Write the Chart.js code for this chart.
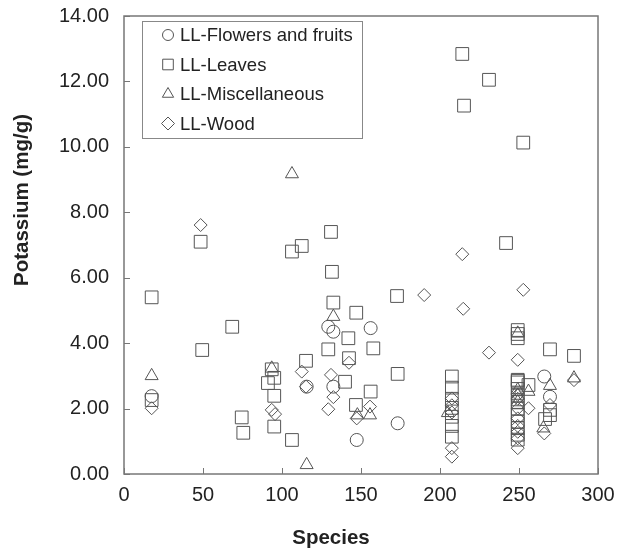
<!DOCTYPE html>
<html>
<head>
<meta charset="utf-8">
<script src="https://cdn.jsdelivr.net/npm/chart.js@4.4.1/dist/chart.umd.min.js"></script>
<style>
	html, body { margin: 0; padding: 0; background: #fff; }
	#wrap { width: 617px; height: 555px; }
</style>
</head>
<body>
<div id="wrap"><canvas id="potChart" width="617" height="555"></canvas></div>
<script>
// x ticks / y ticks
var xTicks = [0, 50, 100, 150, 200, 250, 300];
var yTicks = [0, 2, 4, 6, 8, 10, 12, 14];

// LL-Flowers and fruits
var flowersX = [17.5, 129.3, 132.5, 156.1, 115.6, 132.5, 147.3, 173.2, 266, 269.6];
var flowersY = [2.38, 4.50, 4.35, 4.46, 2.67, 2.67, 1.04, 1.55, 2.98, 2.36];

// LL-Leaves
var leavesX = [17.5, 17.5, 48.5, 49.5, 68.5, 74.5, 75.5, 93.5, 95.1, 91.1, 95.1, 95.1, 106.3, 115.2, 106.3, 112.5,
	131, 131.6, 132.5, 147, 142, 129.3, 157.8, 142.4, 139.9, 156.1, 146.8, 173.2, 172.8,
	214.1, 231, 215.2, 252.7, 241.8,
	207.5, 207.5, 207.5, 207.5, 207.5, 207.5, 207.5,
	249.2, 249.2, 249.2, 249.2, 249.2, 249.2, 249.2, 249.2, 249.2, 249.2, 249.2, 249.2, 249.2, 249.2, 249.2,
	256, 269.6, 284.8, 269.6, 266.5, 269.6];
var leavesY = [5.40, 2.26, 7.10, 3.79, 4.50, 1.73, 1.26, 3.20, 2.94, 2.78, 2.39, 1.45, 1.04, 3.46, 6.80, 6.97,
	7.40, 6.18, 5.24, 4.93, 4.15, 3.81, 3.84, 3.54, 2.82, 2.52, 2.11, 3.06, 5.44,
	12.84, 12.05, 11.26, 10.13, 7.06,
	2.98, 2.64, 2.30, 2.02, 1.75, 1.47, 1.14,
	4.40, 4.28, 4.15, 2.88, 2.85, 2.80, 2.60, 2.40, 2.20, 2.00, 1.80, 1.60, 1.40, 1.20, 1.05,
	2.72, 3.81, 3.61, 1.96, 1.68, 1.80];

// LL-Miscellaneous
var miscX = [17.5, 106.3, 115.6, 93.5, 132.5, 147.7, 155.7, 249.2, 249.2, 249.2, 249.2, 256, 269.6, 284.8, 205, 265.4];
var miscY = [3.00, 9.17, 0.28, 3.23, 4.81, 1.80, 1.80, 4.30, 2.57, 2.40, 2.20, 2.52, 2.70, 2.93, 1.87, 1.40];

// LL-Wood
var woodX = [17.5, 48.5, 112.5, 115.2, 93.5, 95.6, 142.4, 131, 132.5, 129.3, 147.3, 155.7,
	214.1, 190, 214.7, 252.7, 231, 249.2,
	207.5, 207.5, 207.5, 207.5, 207.5,
	249.2, 249.2, 249.2, 249.2, 249.2, 249.2, 249.2, 249.2,
	256, 269.6, 266, 284.8];
var woodY = [2.01, 7.61, 3.13, 2.67, 1.96, 1.83, 3.40, 3.03, 2.35, 1.98, 1.70, 2.06,
	6.72, 5.47, 5.05, 5.63, 3.71, 3.49,
	2.31, 2.10, 1.88, 0.79, 0.53,
	2.42, 2.30, 2.00, 1.70, 1.47, 1.29, 1.09, 0.79,
	2.01, 2.11, 1.24, 2.87];

var markColor = '#555555';
var frameColor = '#777777';
var textColor = '#222222';
var fontFam = '"Liberation Sans", Arial, sans-serif';

function toPoints(xs, ys) {
	var pts = [];
	for (var i = 0; i < xs.length && i < ys.length; i++) {
		pts.push({x: xs[i], y: ys[i]});
	}
	return pts;
}

// little marker painter for the boxed legend
function drawMark(ctx, style, x, y, r) {
	ctx.beginPath();
	if (style === 'circle') {
		ctx.arc(x, y, r, 0, Math.PI * 2);
	} else if (style === 'rect') {
		var s = r * Math.SQRT1_2;
		ctx.rect(x - s, y - s, 2 * s, 2 * s);
	} else if (style === 'triangle') {
		ctx.moveTo(x, y - r);
		ctx.lineTo(x + r * 0.866, y + r * 0.5);
		ctx.lineTo(x - r * 0.866, y + r * 0.5);
		ctx.closePath();
	} else if (style === 'rectRot') {
		ctx.moveTo(x, y - r);
		ctx.lineTo(x + r, y);
		ctx.lineTo(x, y + r);
		ctx.lineTo(x - r, y);
		ctx.closePath();
	}
	ctx.stroke();
}

var framePlugin = {
	id: 'framePlugin',
	afterDraw: function (chart) {
		var ctx = chart.ctx;
		var a = chart.chartArea;
		var xs = chart.scales.x;
		var ys = chart.scales.y;
		ctx.save();
		ctx.strokeStyle = frameColor;
		ctx.lineWidth = 1.5;
		ctx.strokeRect(a.left, a.top, a.right - a.left, a.bottom - a.top);
		ctx.lineWidth = 1;
		ctx.beginPath();
		xTicks.forEach(function (v) {
			var px = Math.round(xs.getPixelForValue(v)) + 0.5;
			ctx.moveTo(px, a.bottom);
			ctx.lineTo(px, a.bottom - 6);
		});
		yTicks.forEach(function (v) {
			var py = Math.round(ys.getPixelForValue(v)) + 0.5;
			ctx.moveTo(a.left, py);
			ctx.lineTo(a.left + 6, py);
		});
		ctx.stroke();
		// axis titles, placed off the plot centre as in the source
		ctx.fillStyle = textColor;
		ctx.font = 'bold 20.5px ' + fontFam;
		ctx.textAlign = 'center';
		ctx.textBaseline = 'middle';
		ctx.fillText('Species', 331, 538);
		ctx.save();
		ctx.translate(22, 200);
		ctx.rotate(-Math.PI / 2);
		ctx.fillText('Potassium (mg/g)', 0, 0);
		ctx.restore();
		// boxed legend
		var bx = a.left + 18, by = a.top + 5, bw = 220, bh = 117;
		ctx.fillStyle = '#ffffff';
		ctx.fillRect(bx, by, bw, bh);
		ctx.strokeStyle = '#888888';
		ctx.strokeRect(bx + 0.5, by + 0.5, bw, bh);
		ctx.font = '18.5px ' + fontFam;
		ctx.textBaseline = 'middle';
		ctx.textAlign = 'left';
		chart.data.datasets.forEach(function (ds, i) {
			var cy = by + 14 + i * 29.5;
			ctx.strokeStyle = markColor;
			ctx.lineWidth = 1;
			var r = ds.pointStyle === 'rect' ? 7.5 : (ds.pointStyle === 'circle' ? 5.5 : 6.5);
			drawMark(ctx, ds.pointStyle, bx + 26, cy, r);
			ctx.fillStyle = textColor;
			ctx.fillText(ds.label, bx + 38, cy + 1);
		});
		ctx.restore();
	}
};

function makeSet(label, xs, ys, style, radius) {
	return {
		label: label,
		data: toPoints(xs, ys),
		pointStyle: style,
		pointRadius: radius,
		pointHoverRadius: radius,
		borderColor: markColor,
		backgroundColor: 'rgba(0,0,0,0)',
		pointBorderWidth: 1,
		showLine: false
	};
}

const ctx = document.getElementById('potChart').getContext('2d');
const myChart = new Chart(ctx, {
	type: 'scatter',
	data: {
		datasets: [
			makeSet('LL-Flowers and fruits', flowersX, flowersY, 'circle', 6.5),
			makeSet('LL-Leaves', leavesX, leavesY, 'rect', 9),
			makeSet('LL-Miscellaneous', miscX, miscY, 'triangle', 7.5),
			makeSet('LL-Wood', woodX, woodY, 'rectRot', 6.5)
		]
	},
	options: {
		responsive: false,
		animation: false,
		events: [],
		layout: {
			padding: {left: 0, right: 19, top: 16, bottom: 0}
		},
		plugins: {
			legend: {display: false},
			tooltip: {enabled: false}
		},
		scales: {
			x: {
				type: 'linear',
				min: 0,
				max: 300,
				afterFit: function (s) { s.height = 81; s.paddingLeft = 0; s.paddingRight = 0; },
				afterBuildTicks: function (s) { s.ticks = xTicks.map(function (v) { return {value: v}; }); },
				grid: {display: false, drawTicks: false},
				border: {display: false},
				ticks: {
					color: textColor,
					padding: 9,
					maxRotation: 0,
					font: {family: fontFam, size: 20}
				}
			},
			y: {
				type: 'linear',
				min: 0,
				max: 14,
				afterFit: function (s) { s.width = 124; s.paddingTop = 0; s.paddingBottom = 0; },
				afterBuildTicks: function (s) { s.ticks = yTicks.map(function (v) { return {value: v}; }); },
				grid: {display: false, drawTicks: false},
				border: {display: false},
				ticks: {
					color: textColor,
					padding: 15,
					font: {family: fontFam, size: 20},
					callback: function (v) { return Number(v).toFixed(2); }
				}
			}
		}
	},
	plugins: [framePlugin]
});
</script>
</body>
</html>
